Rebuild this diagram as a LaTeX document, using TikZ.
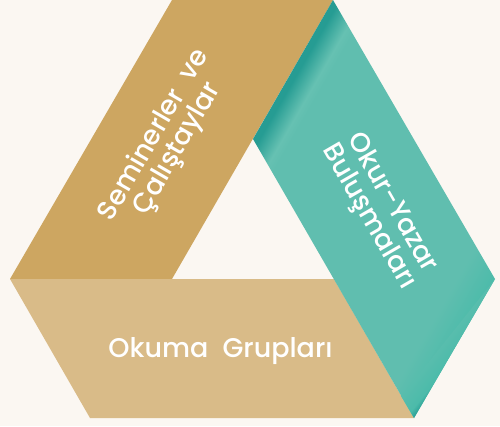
\documentclass[tikz,border=0pt]{standalone}
\usepackage{fontspec}
\setmainfont{Poppins Medium}
\definecolor{pagebg}{HTML}{FBF7F2}
\definecolor{goldband}{HTML}{CDA661}
\definecolor{sandband}{HTML}{D9BB88}
\definecolor{tealmain}{HTML}{60BEAF}
\definecolor{tealmid}{HTML}{4CBBAA}
\definecolor{tealsoft}{HTML}{58BDAD}
\definecolor{tealdark}{HTML}{269C93}
\definecolor{tealglow}{HTML}{66C1B2}
% stops: 25bp = inner edge, 75bp = outer edge of the band
\pgfdeclarehorizontalshading{tealband}{100bp}{
  color(0bp)=(tealdark); color(25bp)=(tealdark); color(26bp)=(tealdark); color(29.6bp)=(tealglow);
  color(31bp)=(tealmain); color(69bp)=(tealmain); color(75bp)=(tealmid); color(100bp)=(tealmid)}
\pgfdeclarehorizontalshading{tealcorner}{100bp}{
  color(0bp)=(tealsoft); color(25bp)=(tealsoft); color(60bp)=(tealmid);
  color(75bp)=(tealdark); color(100bp)=(tealdark)}
\tikzset{
  bandlabel/.style={text=white, font=\fontsize{27}{29}\selectfont, align=center, inner sep=0pt},
}
\begin{document}
\begin{tikzpicture}[x=1pt,y=-1pt]
\useasboundingbox (0,0) rectangle (500,426);
\fill[pagebg] (0,0) rectangle (500,426);
\fill[goldband] (172,0) -- (333,0) -- (172,279) -- (10,279) -- cycle;
\fill[sandband] (10,279) -- (334,279) -- (414,418) -- (90,418) -- cycle;
\begin{scope}
  \clip (333,0) -- (495,279) -- (414,418) -- (253,139) -- cycle;
  \begin{scope}[transform canvas={shift={(333pt,0pt)},rotate=-30}]
    \shade[shading=tealband] (0,-20) rectangle (280,340);
  \end{scope}
\end{scope}
\begin{scope}
  \clip (495,279) -- (414,418) -- (401,396) -- cycle;
  \begin{scope}[transform canvas={shift={(495pt,-279pt)},rotate=-38.7}]
    \shade[shading=tealcorner] (0,-5) rectangle (24,170);
  \end{scope}
\end{scope}
\node[bandlabel, rotate=60] (seminar) at (166,142) {Seminerler\ \ ve\\[-2pt]Çalıştaylar};
\node[bandlabel, rotate=-60] (okur) at (380,210) {Okur-Yazar\\[-2pt]Buluşmaları};
\node[bandlabel] (okuma) at (220.5,351) {Okuma\ \ Grupları};
\end{tikzpicture}
\end{document}
